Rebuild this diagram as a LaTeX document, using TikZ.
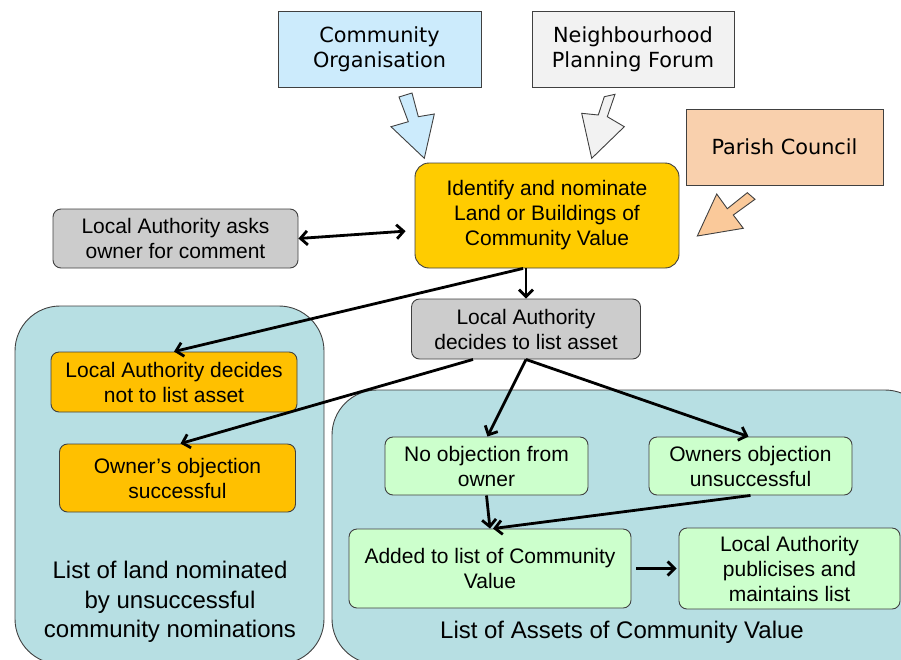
\documentclass[tikz,border=0pt]{standalone}
\usepackage{fontspec}
\setmainfont{Liberation Sans}
\newfontfamily\vfont{DejaVu Sans}
\usetikzlibrary{arrows.meta,calc}
\definecolor{cteal}{HTML}{B7DFE3}
\definecolor{cgreen}{HTML}{CCFFCC}
\definecolor{cgold}{HTML}{FFCC00}
\definecolor{corange}{HTML}{FFC000}
\definecolor{cgray}{HTML}{CCCCCC}
\definecolor{cblue}{HTML}{CCEBFC}
\definecolor{cwhite}{HTML}{F2F2F2}
\definecolor{cpeach}{HTML}{F9D0AD}
\definecolor{cpeacharr}{HTML}{FAC99A}
\definecolor{cborder}{HTML}{404040}
\tikzset{
  box/.style={draw=cborder, line width=0.9pt, rounded corners=8pt, align=center,
    inner sep=2pt, font=\fontsize{21}{25}\selectfont},
  topbox/.style={draw=cborder, line width=0.9pt, align=center, inner sep=2pt,
    font=\vfont\fontsize{20.8}{25}\selectfont},
  cont/.style={draw=cborder, line width=0.9pt, rounded corners=45pt, fill=cteal},
  clabel/.style={align=center, font=\fontsize{24}{29.5}\selectfont},
  arr/.style={line width=2.8pt, -{Straight Barb[length=7pt,width=14pt]}},
  darr/.style={line width=2.8pt, {Straight Barb[length=7pt,width=14pt]}-{Straight Barb[length=7pt,width=14pt]}},
  blockarr/.style={draw=cborder, line width=0.9pt, line join=miter}
}
\begin{document}
\begin{tikzpicture}[x=1pt,y=-1pt]
\useasboundingbox (0,0) rectangle (901,659);
\begin{scope}
\clip (0,0) rectangle (901,659);
% containers
\node[cont, minimum width=309pt, minimum height=358pt] (leftc) at (169.5,485) {};
\node[cont, minimum width=598pt, minimum height=274pt] (rightc) at (631,527) {};
\node[clabel] (leftl) at (170,602) {List of land nominated\\by unsuccessful\\community nominations};
\node[clabel] (rightl) at (622,632) {List of Assets of Community Value};

% top boxes
\node[topbox, fill=cblue, minimum width=203pt, minimum height=76pt] (co) at (379.5,49) {Community\\Organisation};
\node[topbox, fill=cwhite, minimum width=202pt, minimum height=76pt] (npf) at (633,49) {Neighbourhood\\Planning Forum};
\node[topbox, fill=cpeach, minimum width=197pt, minimum height=76pt] (pc) at (784.5,147) {Parish Council};

% block arrows
\draw[blockarr, fill=cblue] (399,97) -- (412,93) -- (418.3,116.7) -- (434.3,114) -- (424.3,158.3) -- (391,126.7) -- (408.3,121.7) -- cycle;
\draw[blockarr, fill=cwhite] (604.3,96.7) -- (615,94.3) -- (607.3,116.7) -- (624.3,126.7) -- (591.7,158.3) -- (581.7,113.3) -- (598.3,115) -- cycle;
\draw[blockarr, fill=cpeacharr] (747.3,192.7) -- (755,199.3) -- (733.3,215) -- (743.3,228.3) -- (697.3,236) -- (716.7,194) -- (727.3,208.7) -- cycle;

% process boxes
\node[box, fill=cgold, rounded corners=14pt, minimum width=264pt, minimum height=105pt] (idn) at (547,215.5) {Identify and nominate\\Land or Buildings of\\Community Value};
\node[box, fill=cgray, minimum width=245pt, minimum height=59pt] (laask) at (175.5,238.5) {Local Authority asks\\owner for comment};
\node[box, fill=cgray, minimum width=229pt, minimum height=60pt] (ladec) at (526,329) {Local Authority\\decides to list asset};
\node[box, fill=corange, minimum width=246pt, minimum height=60pt] (notlist) at (174,382) {Local Authority decides\\not to list asset};
\node[box, fill=corange, minimum width=236pt, minimum height=68pt] (ownsucc) at (177.5,478) {Owner’s objection\\successful};
\node[box, fill=cgreen, minimum width=203pt, minimum height=58pt] (noobj) at (486.5,466) {No objection from\\owner};
\node[box, fill=cgreen, minimum width=203pt, minimum height=58pt] (ownuns) at (750.5,466) {Owners objection\\unsuccessful};
\node[box, fill=cgreen, minimum width=282pt, minimum height=79pt] (added) at (490,568.5) {Added to list of Community\\Value};
\node[box, fill=cgreen, minimum width=221pt, minimum height=81pt] (pub) at (789.5,568.5) {Local Authority\\publicises and\\maintains list};

% connectors
\draw[darr, shorten >=9pt] (laask.east) -- ([yshift=-15pt]idn.west);
\draw[arr] (ladec.north |- idn.south) -- (ladec.north);
\draw[arr] ([xshift=-24pt]idn.south) -- (notlist.north);
\draw[arr] ([xshift=-53pt]ladec.south) -- ([xshift=3pt]ownsucc.north);
\draw[arr] (ladec.south) -- ([xshift=1pt]noobj.north);
\draw[arr] (ladec.south) -- ([xshift=-2pt]ownuns.north);
\draw[arr] (noobj.south) -- (added.north);
\draw[arr] (ownuns.south) -- ([xshift=3pt]added.north);
\draw[arr, shorten <=5pt, shorten >=2pt] (added.east) -- (pub.west);
\end{scope}
\end{tikzpicture}
\end{document}
